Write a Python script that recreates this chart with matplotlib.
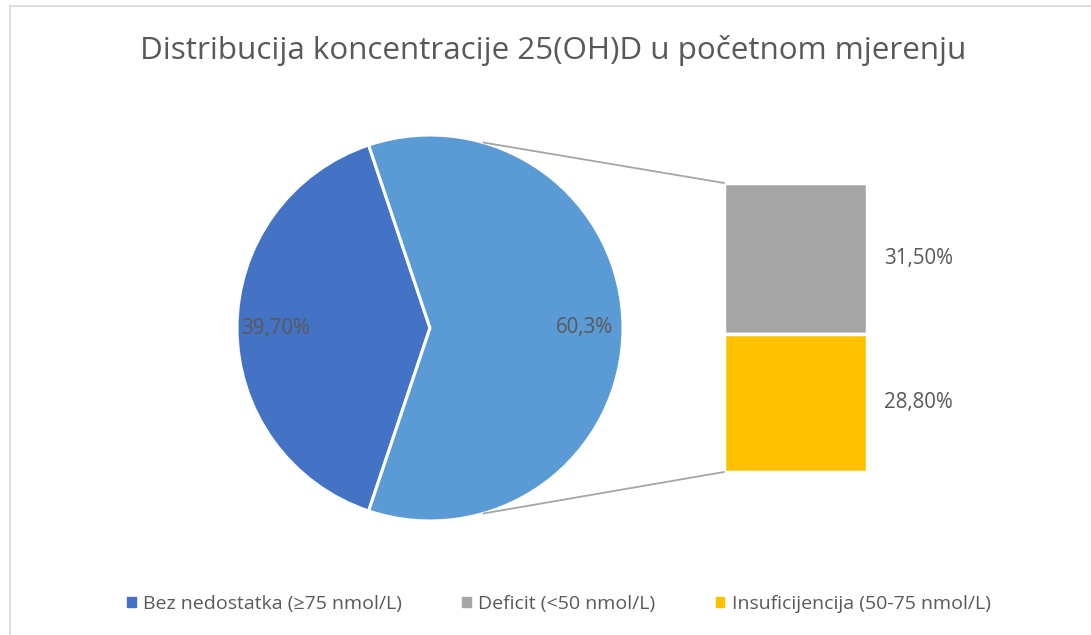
import matplotlib.pyplot as plt
from matplotlib.patches import ConnectionPatch, Rectangle
import numpy as np

# podaci
naslov = "Distribucija koncentracije 25(OH)D u početnom mjerenju"
pita_vrijednosti = [39.7, 60.3]
pita_oznake = ["39,70%", "60,3%"]
stupac_kategorije = ["Deficit (<50 nmol/L)", "Insuficijencija (50-75 nmol/L)"]
stupac_vrijednosti = [31.5, 28.8]
stupac_oznake = ["31,50%", "28,80%"]
legenda = ["Bez nedostatka (≥75 nmol/L)", "Deficit (<50 nmol/L)", "Insuficijencija (50-75 nmol/L)"]

plava = "#4472C4"
svijetlo_plava = "#5B9BD5"
siva = "#A5A5A5"
zuta = "#FFC000"
tekst = "#595959"

plt.rcParams['font.family'] = ['Open Sans', 'DejaVu Sans']

W, H = 1091, 635
fig = plt.figure(figsize=(W / 100, H / 100), dpi=100)

# okvir grafikona
fig.patches.append(Rectangle((10 / W, -0.1), 2, 1 - 6 / H + 0.1, transform=fig.transFigure,
                             fill=False, edgecolor="#D9D9D9", linewidth=1.2))

fig.text(553 / W, 1 - 50 / H, naslov, ha='center', va='center', fontsize=22.6, color=tekst)

# pita
ax_pita = fig.add_axes([237 / W, 1 - 521 / H, 386 / W, 386 / H])
kut = 180 - pita_vrijednosti[0] / sum(pita_vrijednosti) * 360 / 2
klinovi, _ = ax_pita.pie(pita_vrijednosti, colors=[plava, svijetlo_plava], startangle=kut,
                        wedgeprops=dict(edgecolor='white', linewidth=2.2))
for klin, oznaka in zip(klinovi, pita_oznake):
    srednji = np.deg2rad((klin.theta1 + klin.theta2) / 2)
    ax_pita.text(0.80 * np.cos(srednji), 0.80 * np.sin(srednji), oznaka,
                 ha='center', va='center', fontsize=14.8, color=tekst)
ax_pita.set_xlim(-1, 1)
ax_pita.set_ylim(-1, 1)
ax_pita.set_aspect('equal')
ax_pita.axis('off')

# stupac
ax_stupac = fig.add_axes([724 / W, 1 - 472 / H, 143 / W, 289 / H])
boje_stupca = [siva, zuta]
dno = sum(stupac_vrijednosti)
for vrijednost, boja, oznaka in zip(stupac_vrijednosti, boje_stupca, stupac_oznake):
    dno -= vrijednost
    ax_stupac.bar(0, vrijednost, bottom=dno, width=1, color=boja, edgecolor='white', linewidth=2.5)
    ax_stupac.text(0.62, dno + vrijednost / 2, oznaka, ha='left', va='center',
                   fontsize=14.8, color=tekst)
ax_stupac.set_xlim(-0.5, 0.5)
ax_stupac.set_ylim(0, sum(stupac_vrijednosti))
ax_stupac.axis('off')

# spojnice
kut_spoja = np.deg2rad(74)
for predznak, y_stupca in [(1, sum(stupac_vrijednosti)), (-1, 0)]:
    spoj = ConnectionPatch(xyA=(np.cos(kut_spoja), predznak * np.sin(kut_spoja)), coordsA=ax_pita.transData,
                           xyB=(-0.5, y_stupca), coordsB=ax_stupac.transData,
                           color=siva, linewidth=1.3)
    fig.add_artist(spoj)

# legenda
rucke = [Rectangle((0, 0), 1, 1, color=b) for b in [plava, siva, zuta]]
fig.legend(rucke, legenda, loc='center', bbox_to_anchor=(559 / W, 1 - 604 / H), ncol=3,
           frameon=False, fontsize=14, handlelength=0.42, handleheight=0.42,
           handletextpad=0.4, columnspacing=3.1, labelcolor=tekst)

fig.savefig("out.png", dpi=100)
